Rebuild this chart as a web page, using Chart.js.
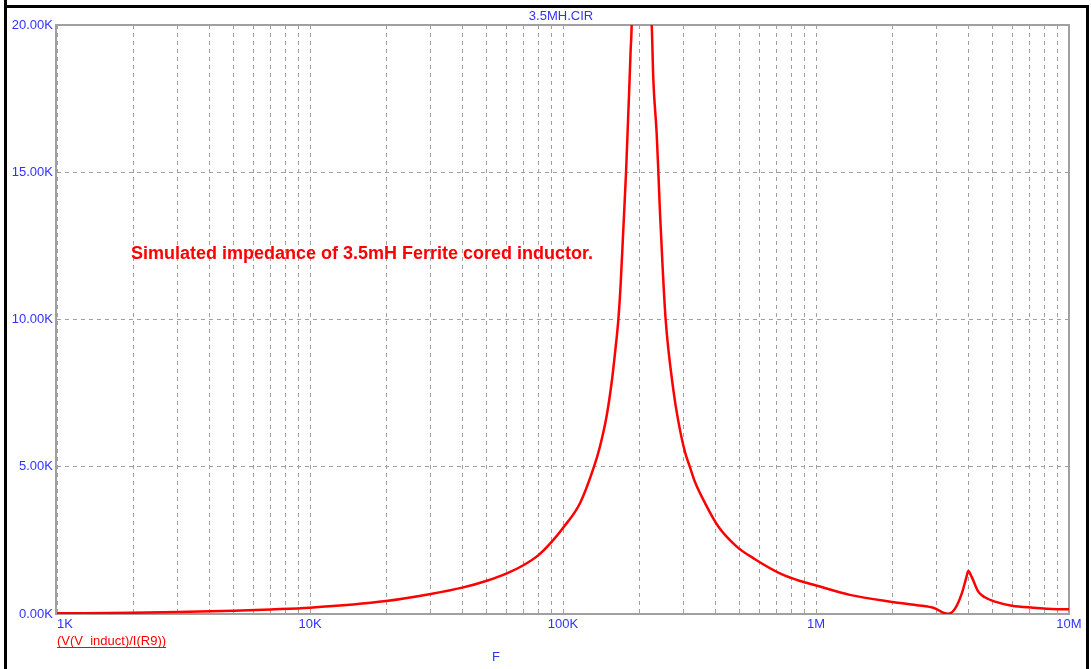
<!DOCTYPE html>
<html>
<head>
<meta charset="utf-8">
<script src="https://cdn.jsdelivr.net/npm/chart.js@4"></script>
<style>
  body { margin: 0; background: #fff; }
  #wrap { width: 1091px; height: 669px; }
</style>
</head>
<body>
<div id="wrap"><canvas id="chart"></canvas></div>
<script>
// Data (frequency in Hz, impedance in ohms)
const freqs = [1000, 2000, 3000, 5000, 7000, 10000, 20000, 30000, 40000, 50000,
  60000, 70000, 80000, 90000, 100000, 117000, 132000, 140000, 149000, 155700,
  160500, 165500, 169000, 173000, 177500, 181000, 185000, 187500, 205000,
  222000, 224200, 227500, 234600, 238200, 241700, 247700, 254500, 272900,
  285600, 303500, 317800, 332500, 364000, 411000, 486000, 574000, 720000,
  865000, 1000000, 1360000, 2000000, 2500000, 2950000, 3180000, 3330000,
  3550000, 3770000, 3920000, 4000000, 4120000, 4380000, 4650000, 5100000,
  5940000, 7210000, 8940000, 10000000];
const impedance = [22, 45, 66, 110, 155, 215, 440, 680, 895, 1130,
  1380, 1665, 2000, 2440, 2920, 3780, 4950, 5690, 6760, 7860,
  8850, 10000, 11200, 13000, 15000, 16900, 19100, 21000, 80000,
  21000, 20000, 18160, 16300, 15000, 13640, 11750, 10000, 7620,
  6550, 5500, 4980, 4480, 3770, 2970, 2290, 1860, 1380,
  1120, 970, 650, 410, 300, 193, 44, 5,
  190, 700, 1210, 1460, 1270, 760, 567, 420,
  283, 215, 165, 160];

const xTicks = [];
for (let d = 1000; d < 10000000; d *= 10) {
  for (let k = 1; k <= 9; k++) xTicks.push(d * k);
}
xTicks.push(10000000);
const xLabels = {1000: '1K', 10000: '10K', 100000: '100K', 1000000: '1M', 10000000: '10M'};
const yTicks = [0, 5000, 10000, 15000, 20000];

const blue = '#3232ff';
const gridGray = '#a0a0a0';
const font = '"Liberation Sans", Arial, sans-serif';

// frame, plot border and texts
const extras = {
  id: 'extras',
  beforeDraw(chart) {
    const ctx = chart.ctx;
    ctx.save();
    ctx.fillStyle = '#fff';
    ctx.fillRect(0, 0, chart.width, chart.height);
    ctx.fillStyle = '#000';
    ctx.fillRect(4, 0, 3, 669);
    ctx.fillRect(4, 5, 1085, 3);
    ctx.fillRect(1086, 5, 3, 664);
    ctx.restore();
  },
  beforeDatasetsDraw(chart) {
    const ctx = chart.ctx;
    const a = chart.chartArea;
    ctx.save();
    ctx.strokeStyle = gridGray;
    ctx.lineWidth = 2;
    ctx.strokeRect(a.left - 1, a.top, a.right - a.left + 1, a.bottom - a.top);
    ctx.restore();
  },
  afterDraw(chart) {
    const ctx = chart.ctx;
    const xs = chart.scales.x;
    ctx.save();
    ctx.textBaseline = 'middle';
    ctx.font = '13px ' + font;
    ctx.fillStyle = blue;
    // x tick labels
    Object.keys(xLabels).forEach(v => {
      const px = xs.getPixelForValue(+v);
      ctx.textAlign = (+v === 1000) ? 'left' : 'center';
      ctx.fillText(xLabels[v], px, 624);
    });
    ctx.textAlign = 'center';
    ctx.fillText('3.5MH.CIR', 561, 16);
    ctx.fillText('F', 496, 657);
    // trace name
    ctx.fillStyle = '#ff0000';
    ctx.textAlign = 'left';
    const name = '(V(V_induct)/I(R9))';
    ctx.fillText(name, 57, 641);
    const w = ctx.measureText(name).width;
    ctx.fillRect(57, 647, w, 1);
    // annotation
    ctx.font = 'bold 18px ' + font;
    ctx.fillText('Simulated impedance of 3.5mH Ferrite cored inductor.', 131, 254);
    ctx.restore();
  }
};

new Chart(document.getElementById('chart'), {
  type: 'line',
  data: {
    datasets: [{
      data: freqs.map((f, i) => ({x: f, y: impedance[i]})),
      borderColor: '#ff0000',
      borderWidth: 2.5,
      pointRadius: 0,
      fill: false,
      cubicInterpolationMode: 'monotone'
    }]
  },
  options: {
    responsive: true,
    maintainAspectRatio: false,
    animation: false,
    layout: { padding: { left: 0, top: 25, right: 22, bottom: 0 } },
    plugins: { legend: { display: false }, tooltip: { enabled: false }, title: { display: false } },
    scales: {
      x: {
        type: 'logarithmic',
        min: 1000,
        max: 10000000,
        afterBuildTicks: scale => { scale.ticks = xTicks.map(v => ({value: v})); },
        afterFit: scale => { scale.height = 55; },
        ticks: { display: false },
        grid: { color: gridGray, lineWidth: 1, drawTicks: false },
        border: { display: false, dash: [4, 4] }
      },
      y: {
        min: 0,
        max: 20000,
        afterBuildTicks: scale => { scale.ticks = yTicks.map(v => ({value: v})); },
        afterFit: scale => { scale.width = 57; },
        ticks: {
          padding: 4,
          color: blue,
          font: { family: font, size: 13 },
          callback: v => (v / 1000).toFixed(2) + 'K'
        },
        grid: { color: gridGray, lineWidth: 1, drawTicks: false },
        border: { display: false, dash: [4, 4] }
      }
    }
  },
  plugins: [extras]
});
</script>
</body>
</html>
